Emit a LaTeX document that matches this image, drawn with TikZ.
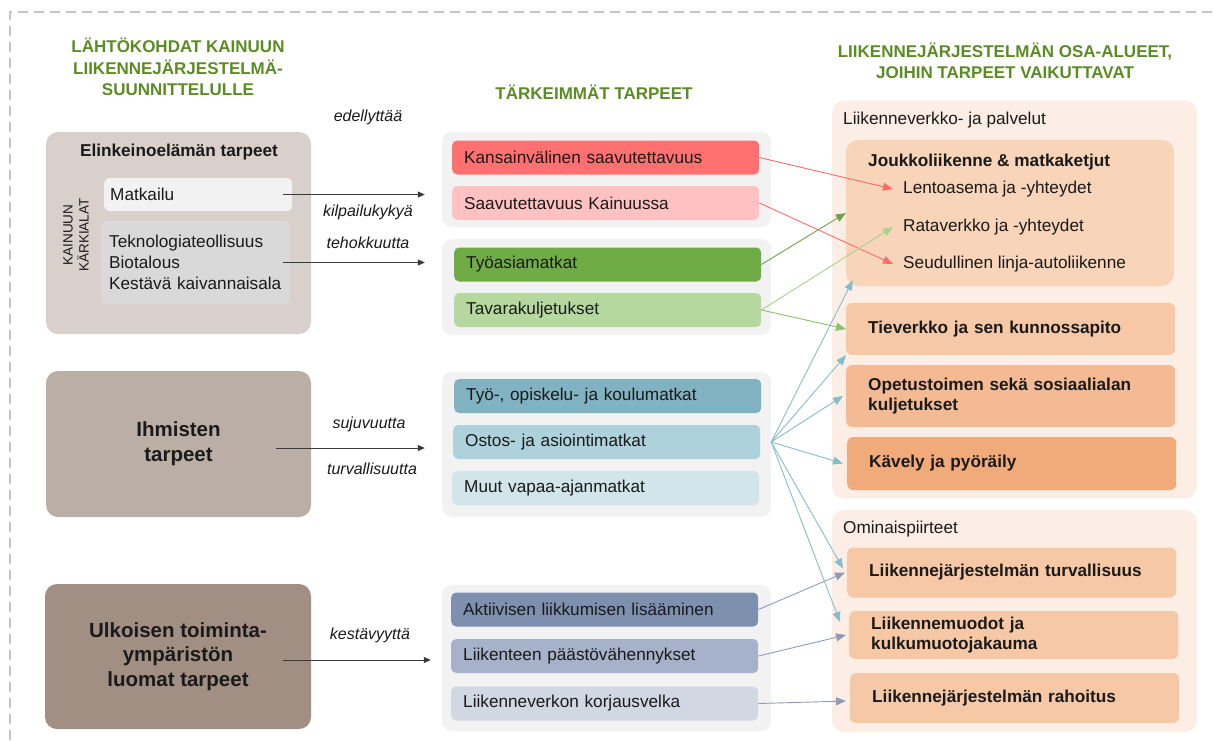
\documentclass[tikz,border=0pt]{standalone}
\usepackage{fontspec}
\setmainfont{Liberation Sans}
\usepackage{xcolor}
\usepackage{tikz}
\usetikzlibrary{positioning,arrows.meta,calc}
\definecolor{frameGray}{HTML}{C4C4C4}
\definecolor{headGreen}{HTML}{5B8C24}
\definecolor{ink}{HTML}{1A1A1A}
\definecolor{arrowInk}{HTML}{3A3A3A}
\definecolor{elkFill}{HTML}{D9D0CB}
\definecolor{matkFill}{HTML}{F2F2F2}
\definecolor{teknFill}{HTML}{D9D9D9}
\definecolor{ihmFill}{HTML}{BBAFA5}
\definecolor{ulkFill}{HTML}{A08F82}
\definecolor{grpFill}{HTML}{F2F2F2}
\definecolor{kvRed}{HTML}{FF7070}
\definecolor{skPink}{HTML}{FFC1C1}
\definecolor{tyoGreen}{HTML}{6FAC46}
\definecolor{tavGreen}{HTML}{B4D89D}
\definecolor{opBlue}{HTML}{80B2C1}
\definecolor{ostBlue}{HTML}{AED2DB}
\definecolor{muuBlue}{HTML}{D2E5EB}
\definecolor{aktSlate}{HTML}{7F8FAE}
\definecolor{paaSlate}{HTML}{A6B1CA}
\definecolor{korSlate}{HTML}{D1D7E3}
\definecolor{osaFill}{HTML}{FDEEE5}
\definecolor{joukFill}{HTML}{F8D4B9}
\definecolor{tieFill}{HTML}{F7C8A5}
\definecolor{opeFill}{HTML}{F4BA93}
\definecolor{kavFill}{HTML}{F1AB7A}
\definecolor{redLine}{HTML}{FF6B6B}
\definecolor{greenLine}{HTML}{6FA34B}
\definecolor{lightGreenLine}{HTML}{A9D18E}
\definecolor{midGreenLine}{HTML}{8CC06A}
\definecolor{blueLine}{HTML}{86BDCB}
\definecolor{slateLine}{HTML}{8E9BBB}

\tikzset{
  colhead/.style={text=headGreen, align=center, font=\fontsize{17}{21.5}\selectfont\bfseries},
  panel/.style={rounded corners=12pt, inner sep=0pt},
  needbar/.style={anchor=west, rounded corners=5pt, minimum height=34pt, inner xsep=12pt,
                  text width=283pt, align=left, text=ink, font=\fontsize{17.2}{20}\selectfont},
  areabox/.style={anchor=west, rounded corners=6pt, inner xsep=22pt, text width=285pt,
                  align=left, text=ink, font=\fontsize{17.2}{20}\selectfont\bfseries},
  plaintext/.style={anchor=west, inner sep=0pt, text=ink, font=\fontsize{17.2}{20}\selectfont},
  verbtext/.style={text=ink, font=\fontsize{16}{19}\selectfont\itshape},
  needarrow/.style={-{Triangle[length=7pt,width=6pt]}, draw=arrowInk, line width=1pt},
  impact/.style={-{Triangle[length=10pt,width=8pt]}, line width=0.9pt},
}

\begin{document}
\begin{tikzpicture}[x=1pt, y=-1pt]
  \useasboundingbox (0,0) rectangle (1214,740);
  \draw[frameGray, line width=1.4pt, dash pattern=on 10pt off 6pt] (10,740) -- (10,12) -- (1214,12);

  \node[colhead] (leftHead) at (178,67) {LÄHTÖKOHDAT KAINUUN\\LIIKENNEJÄRJESTELMÄ-\\SUUNNITTELULLE};
  \node[colhead] (midHead) at (594,92) {TÄRKEIMMÄT TARPEET};
  \node[colhead] (rightHead) at (1005,61) {LIIKENNEJÄRJESTELMÄN OSA-ALUEET,\\JOIHIN TARPEET VAIKUTTAVAT};

  % lähtökohdat
  \node[panel, fill=elkFill, minimum width=265pt, minimum height=202pt] (elk) at (178.5,233) {};
  \node[text=ink, font=\fontsize{17.2}{20}\selectfont\bfseries] (elkTitle) at (179,152) {Elinkeinoelämän tarpeet};
  \node[anchor=west, fill=matkFill, rounded corners=5pt, minimum height=33pt, inner xsep=6pt,
        text width=176pt, text=ink, font=\fontsize{17.2}{20}\selectfont] (matk) at (104,194.5) {Matkailu};
  \node[anchor=west, fill=teknFill, rounded corners=5pt, minimum height=83pt, inner xsep=8pt,
        text width=173pt, align=left, text=ink, font=\fontsize{17.2}{21}\selectfont] (tekn) at (101,262.5)
        {Teknologiateollisuus\\Biotalous\\Kestävä kaivannaisala};
  \node[rotate=90, align=center, text=ink, font=\fontsize{13.5}{16}\selectfont] (karki) at (76,235) {KAINUUN\\KÄRKIALAT};
  \node[panel, fill=ihmFill, minimum width=265pt, minimum height=146pt, align=center, text=ink,
        font=\fontsize{20.5}{25}\selectfont\bfseries] (ihm) at (178.5,444) {Ihmisten\\tarpeet};
  \node[panel, fill=ulkFill, minimum width=266pt, minimum height=145pt, align=center, text=ink,
        font=\fontsize{20.5}{24.5}\selectfont\bfseries] (ulk) at (178,656.5) {Ulkoisen toiminta-\\ympäristön\\luomat tarpeet};

  % tärkeimmät tarpeet
  \node[panel, rounded corners=10pt, fill=grpFill, minimum width=329pt, minimum height=95pt] (grp1) at (606.5,179.5) {};
  \node[panel, rounded corners=10pt, fill=grpFill, minimum width=329pt, minimum height=96pt] (grp2) at (606.5,287) {};
  \node[panel, rounded corners=10pt, fill=grpFill, minimum width=329pt, minimum height=145pt] (grp3) at (606.5,444.5) {};
  \node[panel, rounded corners=10pt, fill=grpFill, minimum width=329pt, minimum height=146pt] (grp4) at (606.5,658) {};
  \node[needbar, fill=kvRed] (kv) at (452,157.5) {Kansainvälinen saavutettavuus};
  \node[needbar, fill=skPink] (sk) at (452,203) {Saavutettavuus Kainuussa};
  \node[needbar, fill=tyoGreen] (tyoasia) at (454,264.5) {Työasiamatkat};
  \node[needbar, fill=tavGreen] (tavara) at (454,310) {Tavarakuljetukset};
  \node[needbar, fill=opBlue] (tyoopis) at (454,396) {Työ-, opiskelu- ja koulumatkat};
  \node[needbar, fill=ostBlue] (ostos) at (453,442) {Ostos- ja asiointimatkat};
  \node[needbar, fill=muuBlue] (muut) at (452,488) {Muut vapaa-ajanmatkat};
  \node[needbar, fill=aktSlate] (aktiiv) at (451,609.5) {Aktiivisen liikkumisen lisääminen};
  \node[needbar, fill=paaSlate] (paasto) at (451,656) {Liikenteen päästövähennykset};
  \node[needbar, fill=korSlate] (korjaus) at (451,703.5) {Liikenneverkon korjausvelka};

  % osa-alueet
  \node[panel, fill=osaFill, minimum width=365pt, minimum height=398pt] (osa1) at (1014.5,299.5) {};
  \node[panel, fill=osaFill, minimum width=365pt, minimum height=222pt] (osa2) at (1014.5,621) {};
  \node[plaintext] (osa1Lbl) at (843,120) {Liikenneverkko- ja palvelut};
  \node[plaintext] (osa2Lbl) at (843,529) {Ominaispiirteet};
  \node[panel, fill=joukFill, minimum width=328pt, minimum height=146pt] (joukko) at (1010,213) {};
  \node[plaintext, font=\fontsize{17.2}{20}\selectfont\bfseries] (jlTitle) at (868,162) {Joukkoliikenne \& matkaketjut};
  \node[plaintext] (lento) at (903,189) {Lentoasema ja -yhteydet};
  \node[plaintext] (rata) at (903,227) {Rataverkko ja -yhteydet};
  \node[plaintext] (seud) at (903,264) {Seudullinen linja-autoliikenne};
  \node[areabox, fill=tieFill, minimum height=52pt] (tie) at (846,329) {Tieverkko ja sen kunnossapito};
  \node[areabox, fill=opeFill, minimum height=62pt] (opetus) at (846,396) {Opetustoimen sekä sosiaalialan\\kuljetukset};
  \node[areabox, fill=kavFill, minimum height=53pt] (kavely) at (847,463.5) {Kävely ja pyöräily};
  \node[areabox, fill=tieFill, minimum height=50pt] (turv) at (847,572.5) {Liikennejärjestelmän turvallisuus};
  \node[areabox, fill=tieFill, minimum height=48pt] (muodot) at (849,635) {Liikennemuodot ja\\kulkumuotojakauma};
  \node[areabox, fill=tieFill, minimum height=50pt] (rahoitus) at (850,698) {Liikennejärjestelmän rahoitus};

  % tarpeet -> tärkeimmät
  \draw[needarrow] ([xshift=-9pt]matk.east) -- ([xshift=-17pt]matk.east -| grp1.west);
  \draw[needarrow] ([xshift=-7pt]tekn.east) -- ([xshift=-17pt]tekn.east -| grp2.west);
  \draw[needarrow] ([xshift=-35pt,yshift=-4pt]ihm.east) -- ([xshift=-17pt,yshift=-4pt]ihm.east -| grp3.west);
  \draw[needarrow] ([xshift=-28pt,yshift=-3.5pt]ulk.east) -- ([xshift=-11pt,yshift=-3.5pt]ulk.east -| grp4.west);
  \node[verbtext] (edell) at (368,117) {edellyttää};
  \node[verbtext] (kilp) at (368,212) {kilpailukykyä};
  \node[verbtext] (teho) at (368,243) {tehokkuutta};
  \node[verbtext] (suju) at (369,424) {sujuvuutta};
  \node[verbtext] (turvl) at (372,469) {turvallisuutta};
  \node[verbtext] (kest) at (370,635) {kestävyyttä};

  % tärkeimmät -> osa-alueet
  \draw[impact, redLine] (kv.east) -- ([xshift=-10pt]lento.west);
  \draw[impact, redLine] (sk.east) -- ([xshift=-10pt]seud.west);
  \draw[impact, greenLine] (tyoasia.east) -- (joukko.west);
  \draw[impact, lightGreenLine] (tavara.east) -- ([xshift=-10pt]rata.west);
  \draw[impact, midGreenLine] (tavara.east) -- (tie.west);
  \coordinate (hub) at (ostos.east -| grp3.east);
  \draw[impact, blueLine] (hub) -- ([xshift=7pt,yshift=6pt]joukko.south west);
  \draw[impact, blueLine] (hub) -- (tie.south west);
  \draw[impact, blueLine] (hub) -- ([xshift=-3pt]opetus.west);
  \draw[impact, blueLine] (hub) -- ([xshift=-4pt]kavely.west);
  \draw[impact, blueLine] (hub) -- ([xshift=-4pt,yshift=4pt]turv.west);
  \draw[impact, blueLine] (hub) -- ([xshift=-9pt,yshift=13pt]muodot.west);
  \draw[impact, slateLine] (aktiiv.east) -- ([xshift=-2pt]turv.west);
  \draw[impact, slateLine] (paasto.east) -- ([xshift=-3pt]muodot.west);
  \draw[impact, slateLine] (korjaus.east) -- ([xshift=-4pt,yshift=-3pt]rahoitus.west);
\end{tikzpicture}
\end{document}
